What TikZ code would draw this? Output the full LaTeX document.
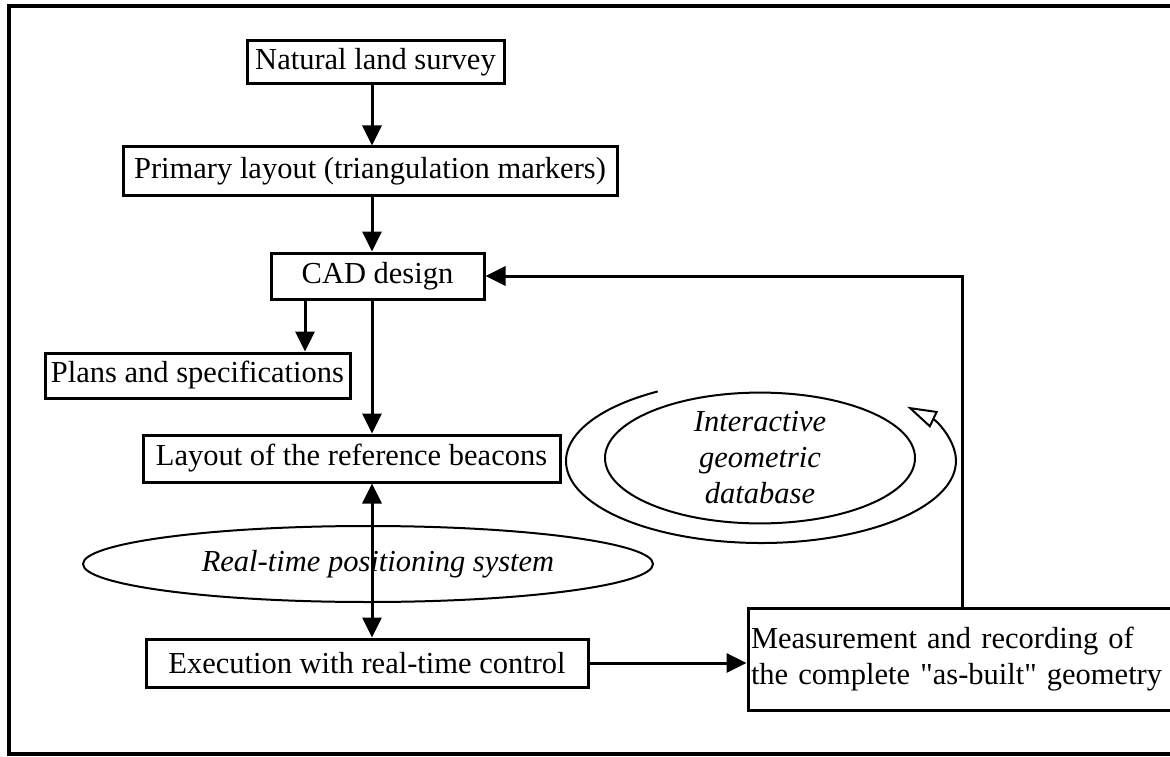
\documentclass[tikz,border=0pt]{standalone}
\usepackage{fontspec}
\setmainfont{Liberation Serif}
\usetikzlibrary{arrows.meta,shapes.geometric}
\newcommand{\bigtxt}{\fontsize{30.5}{36}\selectfont}

\begin{document}
\begin{tikzpicture}[x=1pt,y=1pt,
		stepbox/.style={draw, line width=3pt, inner sep=0pt, font=\bigtxt},
		ovalnode/.style={draw, ellipse, line width=2pt, inner sep=0pt, font=\bigtxt\itshape},
		flow/.style={line width=3pt, -{Triangle[length=20pt,width=19pt]}},
		]
		\useasboundingbox (0,0) rectangle (1170,-757);
		%Frame
		\draw[line width=3.4pt] (1170,-6) -- (9,-6) -- (9,-754) -- (1170,-754);
		
		%Nodes
		\node[stepbox, minimum width=257pt, minimum height=43pt] (survey)    at (375.5,-62.5) {Natural land survey};
		\node[stepbox, minimum width=494pt, minimum height=48pt] (primary)   at (370,-171)    {Primary layout (triangulation markers)};
		\node[stepbox, minimum width=213pt, minimum height=46pt] (cad)       at (377.5,-276)  {CAD design};
		\node[stepbox, minimum width=305pt, minimum height=45pt] (plans)     at (197.5,-375.5) {Plans and specifications};
		\node[stepbox, minimum width=417pt, minimum height=47pt] (beacons)   at (351.5,-458.5) {Layout of the reference beacons};
		\node[ovalnode, minimum width=570pt, minimum height=76pt] (realtime) at (368,-564)    {\hspace{20pt}Real-time positioning system};
		\node[stepbox, minimum width=442pt, minimum height=48pt] (execution) at (367,-663)    {Execution with real-time control};
		\node[stepbox, text width=418pt, inner sep=3pt, align=left, minimum height=102pt] (asbuilt) at (960,-659)
			{Measurement and recording of\\the complete \textquotedbl as-built\textquotedbl{} geometry};
		\node[ovalnode, minimum width=310pt, minimum height=130pt, align=center] (geodb) at (760,-458)
			{Interactive\\geometric\\database};
		
		%Lines
		\coordinate (spine) at (372,0);
		\coordinate (side)  at (305,0);
		\coordinate (back)  at (962,0);
		\coordinate (loop)  at (761,-461);
		\draw[flow] (survey.south -| spine) -- (primary.north -| spine);
		\draw[flow] (primary.south -| spine) -- (cad.north -| spine);
		\draw[flow] (cad.south -| spine) -- (beacons.north -| spine);
		\draw[flow] (cad.south -| side) -- (plans.north -| side);
		\draw[flow, {Triangle[length=20pt,width=19pt]}-{Triangle[length=20pt,width=19pt]}] (beacons.south -| spine) -- (execution.north -| spine);
		\draw[flow] (execution.east) -- (execution.east -| asbuilt.west);
		\draw[flow] (asbuilt.north -| back) -- (back |- cad.east) -- (cad.east);
		\draw[line width=2pt, -{Triangle[open,length=30pt,width=18pt,line width=2pt]}]
			([shift={(122:195 and 82)}]loop) arc[start angle=122, end angle=401.5, x radius=195, y radius=82];
\end{tikzpicture}
\end{document}
